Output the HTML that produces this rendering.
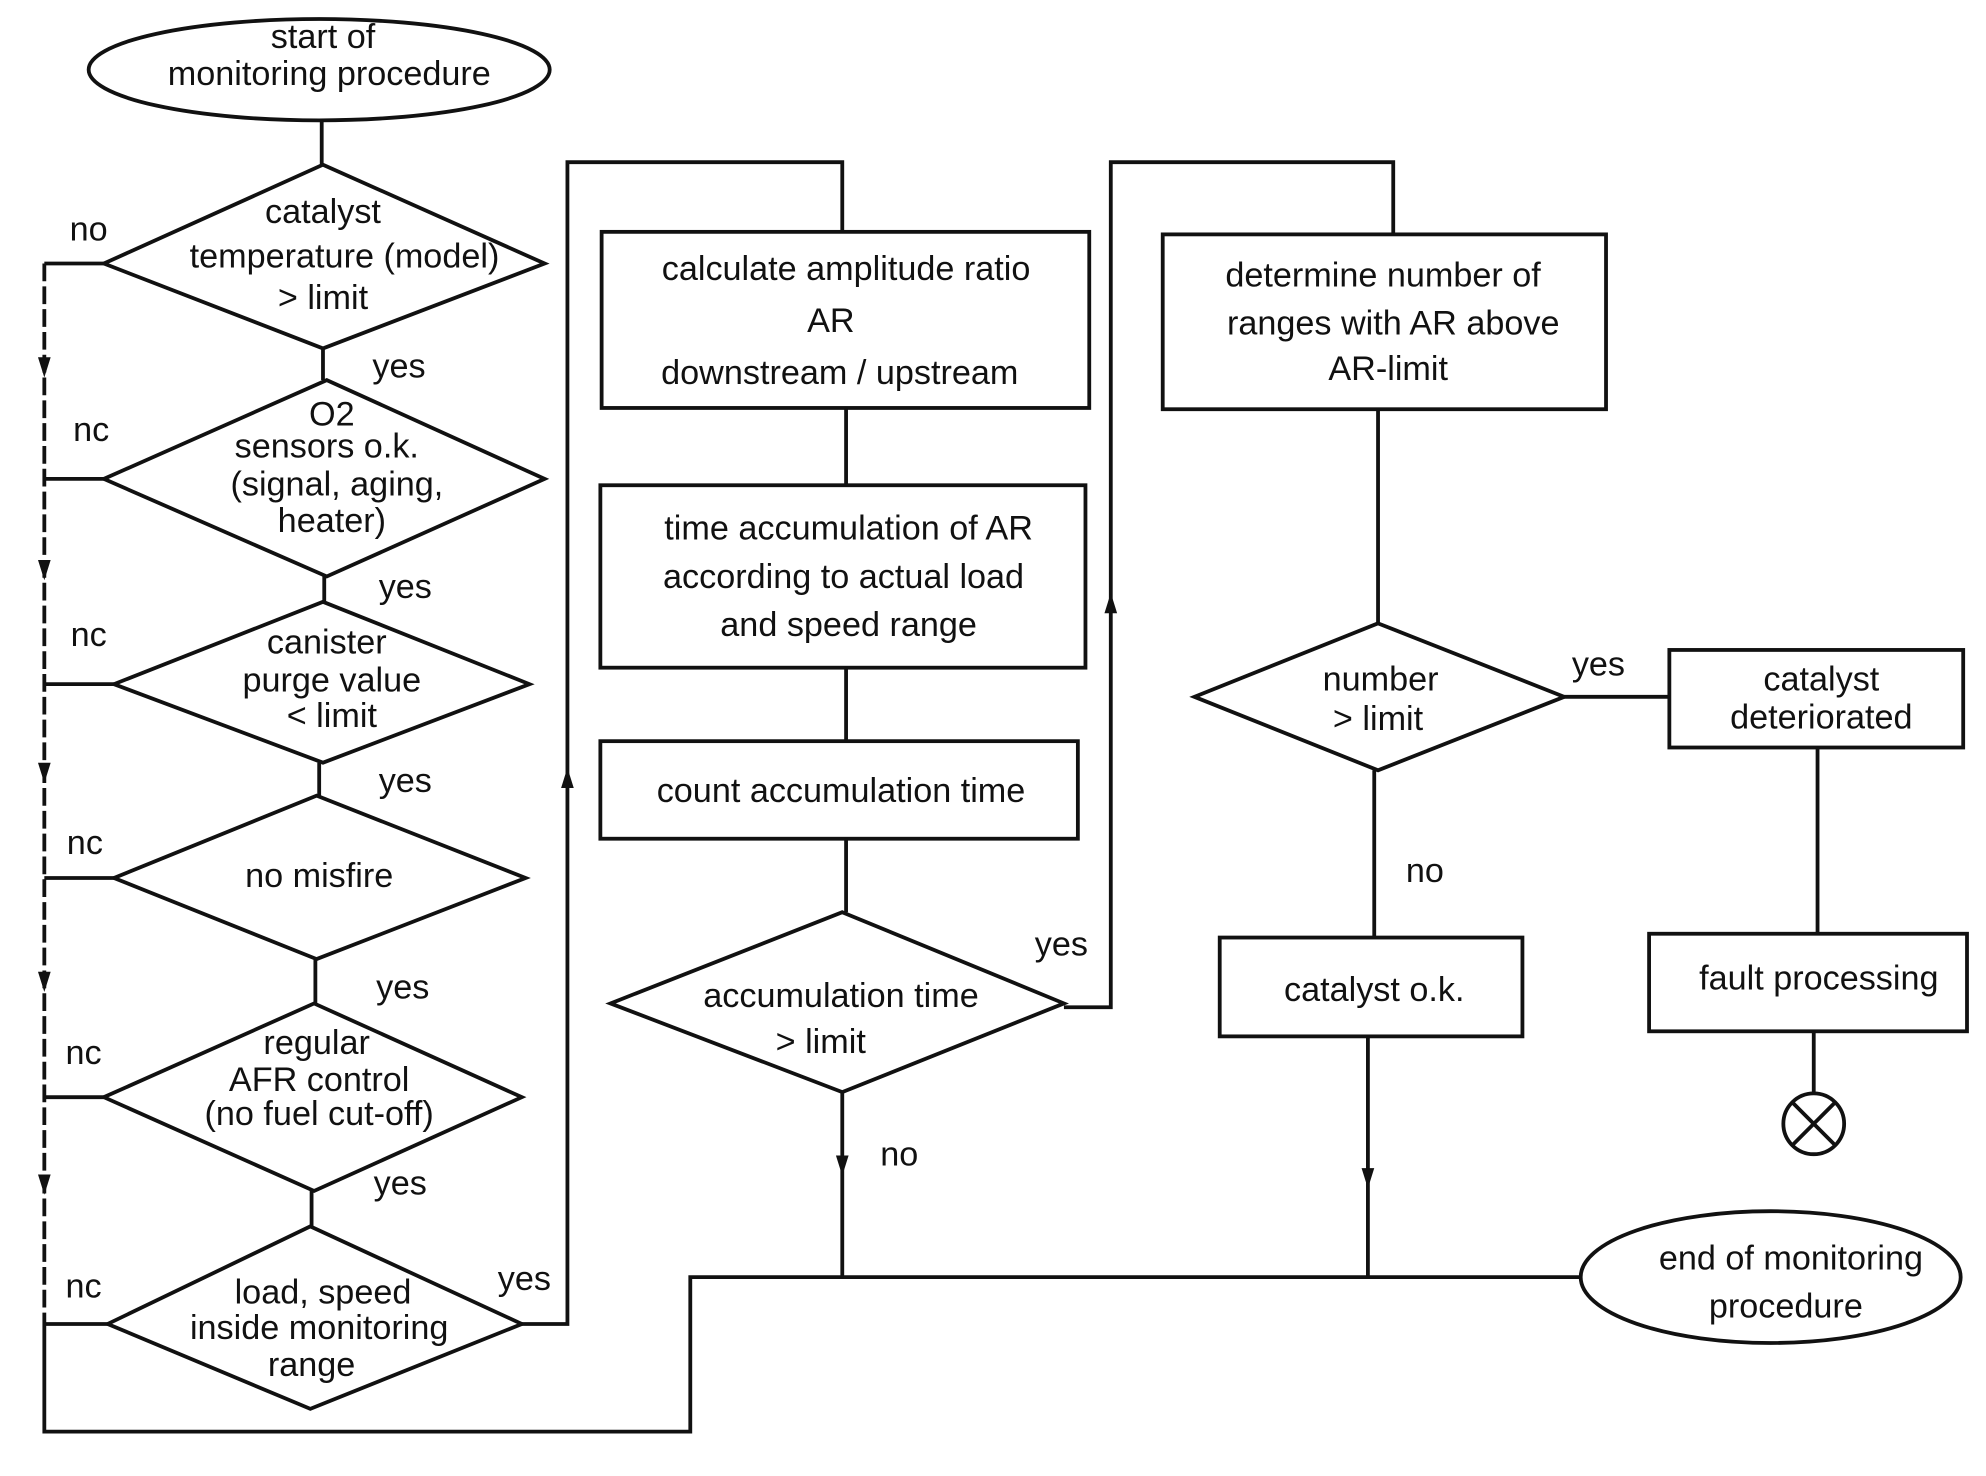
<!DOCTYPE html>
<html><head><meta charset="utf-8"><style>html,body{margin:0;padding:0;background:#fff}svg{display:block}</style></head><body>
<svg width="1986" height="1476" viewBox="0 0 1568 1165" preserveAspectRatio="none" xmlns="http://www.w3.org/2000/svg">
<g fill="none" stroke="#111" stroke-width="3">
<ellipse cx="252" cy="55" rx="182" ry="40"/>
<line x1="254" y1="95" x2="254" y2="130"/>
<polygon points="255,130 430,208 255,275 82,208"/>
<line x1="255" y1="275" x2="255" y2="300"/>
<polygon points="258,300 430,378 258,455 82,378"/>
<line x1="256" y1="455" x2="256" y2="475"/>
<polygon points="255,475 418,540 255,602 90,540"/>
<line x1="252" y1="602" x2="252" y2="628"/>
<polygon points="250,628 415,693 250,757 90,693"/>
<line x1="249" y1="757" x2="249" y2="792"/>
<polygon points="248,792 412,866 248,940 82,866"/>
<line x1="246" y1="940" x2="246" y2="968"/>
<polygon points="245,968 412,1045 245,1112 85,1045"/>
<polyline points="82,208 35,208"/><polyline points="82,378 35,378"/><polyline points="90,540 35,540"/><polyline points="90,693 35,693"/><polyline points="82,866 35,866"/><polyline points="85,1045 35,1045"/>
<line x1="35" y1="208" x2="35" y2="1045" stroke-dasharray="14,4"/>
<polyline points="35,1045 35,1130 545,1130 545,1008 1248,1008"/>
<polyline points="412,1045 448,1045 448,128 665,128 665,183"/>
<rect x="475" y="183" width="385" height="139"/>
<line x1="668" y1="322" x2="668" y2="383"/>
<rect x="474" y="383" width="383" height="144"/>
<line x1="668" y1="527" x2="668" y2="585"/>
<rect x="474" y="585" width="377" height="77"/>
<line x1="668" y1="662" x2="668" y2="720"/>
<polygon points="665,720 840,792 665,862 482,792"/>
<line x1="665" y1="862" x2="665" y2="1008"/>
<polyline points="840,795 877,795 877,128 1100,128 1100,185"/>
<rect x="918" y="185" width="350" height="138"/>
<line x1="1088" y1="323" x2="1088" y2="492"/>
<polygon points="1088,492 1235,550 1088,608 943,550"/>
<line x1="1235" y1="550" x2="1318" y2="550"/>
<rect x="1318" y="513" width="232" height="77"/>
<line x1="1435" y1="590" x2="1435" y2="737"/>
<rect x="1302" y="737" width="251" height="77"/>
<line x1="1432" y1="814" x2="1432" y2="862"/>
<circle cx="1432" cy="887" r="24"/>
<line x1="1415" y1="870" x2="1449" y2="904"/><line x1="1449" y1="870" x2="1415" y2="904"/>
<line x1="1085" y1="608" x2="1085" y2="740"/>
<rect x="963" y="740" width="239" height="78"/>
<line x1="1080" y1="818" x2="1080" y2="1008"/>
<ellipse cx="1398" cy="1008" rx="150" ry="52"/>
</g>
<g fill="#111">
<polygon points="30,282 40,282 35,298"/><polygon points="30,442 40,442 35,458"/><polygon points="30,602 40,602 35,618"/><polygon points="30,767 40,767 35,783"/><polygon points="30,927 40,927 35,943"/>
<polygon points="443,622 453,622 448,606"/><polygon points="872,484 882,484 877,468"/>
<polygon points="660,912 670,912 665,928"/><polygon points="1075,922 1085,922 1080,938"/>
</g>
<g font-family="Liberation Sans, sans-serif" font-size="27" fill="#111" text-anchor="middle">
<text x="255" y="38">start of</text><text x="260" y="67">monitoring procedure</text>
<text x="255" y="176">catalyst</text><text x="272" y="211">temperature (model)</text><text x="255" y="244">&gt; limit</text>
<text x="262" y="336">O2</text><text x="258" y="361">sensors o.k.</text><text x="266" y="391">(signal, aging,</text><text x="262" y="420">heater)</text>
<text x="258" y="516">canister</text><text x="262" y="546">purge value</text><text x="262" y="574">&lt; limit</text>
<text x="252" y="700">no misfire</text>
<text x="250" y="832">regular</text><text x="252" y="861">AFR control</text><text x="252" y="888">(no fuel cut-off)</text>
<text x="255" y="1029">load, speed</text><text x="252" y="1057">inside monitoring</text><text x="246" y="1086">range</text>
<text x="70" y="190">no</text><text x="72" y="348">nc</text><text x="70" y="510">nc</text><text x="67" y="674">nc</text><text x="66" y="840">nc</text><text x="66" y="1024">nc</text>
<text x="315" y="298">yes</text><text x="320" y="472">yes</text><text x="320" y="625">yes</text><text x="318" y="788">yes</text><text x="316" y="943">yes</text><text x="414" y="1018">yes</text>
<text x="668" y="221">calculate amplitude ratio</text><text x="656" y="262">AR</text><text x="663" y="303">downstream / upstream</text>
<text x="670" y="426">time accumulation of AR</text><text x="666" y="464">according to actual load</text><text x="670" y="502">and speed range</text>
<text x="664" y="633">count accumulation time</text>
<text x="664" y="795">accumulation time</text><text x="648" y="831">&gt; limit</text>
<text x="838" y="754">yes</text><text x="710" y="920">no</text>
<text x="1092" y="226">determine number of</text><text x="1100" y="264">ranges with AR above</text><text x="1096" y="300">AR-limit</text>
<text x="1090" y="545">number</text><text x="1088" y="576">&gt; limit</text>
<text x="1262" y="533">yes</text><text x="1125" y="696">no</text>
<text x="1438" y="545">catalyst</text><text x="1438" y="575">deteriorated</text>
<text x="1436" y="781">fault processing</text>
<text x="1085" y="790">catalyst o.k.</text>
<text x="1414" y="1002">end of monitoring</text><text x="1410" y="1040">procedure</text>
</g>
</svg>
</body></html>
